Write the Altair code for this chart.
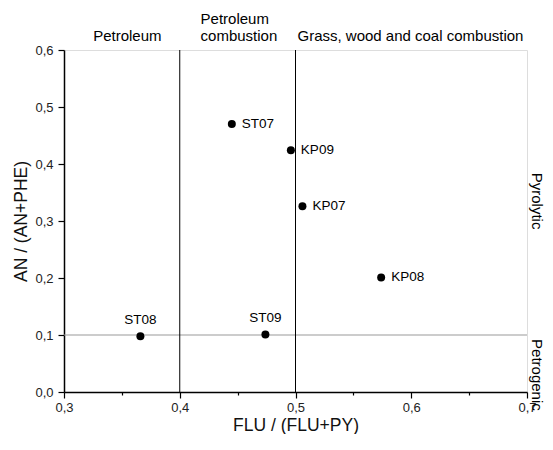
import altair as alt
import pandas as pd

# Data
samples = ["ST07", "KP09", "KP07", "KP08", "ST08", "ST09"]
flu_ratio = [0.445, 0.496, 0.506, 0.574, 0.366, 0.474]
an_ratio = [0.470, 0.424, 0.326, 0.201, 0.098, 0.101]
labels_above = ["ST08", "ST09"]

x_ticks = [0.3, 0.35, 0.4, 0.45, 0.5, 0.55, 0.6, 0.65, 0.7]
y_ticks = [0.0, 0.05, 0.1, 0.15, 0.2, 0.25, 0.3, 0.35, 0.4, 0.45, 0.5, 0.55, 0.6]

vlines = [0.4, 0.5]
hlines = [0.1]

single_labels = ["Petroleum", "Grass, wood and coal combustion"]
single_label_x = [0.3547, 0.5017]
single_label_align = ["center", "left"]
double_label = [["Petroleum", "combustion"]]
double_label_x = [0.418]

side_labels = ["Pyrolytic", "Petrogenic"]
side_label_y = [0.335, 0.030]

df = pd.DataFrame({"sample": samples, "x": flu_ratio, "y": an_ratio})
df["above"] = df["sample"].isin(labels_above)

FONT = "Liberation Sans"
major = "abs(round(datum.value*100) % 10) == 0"
lab = f"{major} ? replace(format(datum.value, '.1f'), '.', ',') : ''"

xscale = alt.Scale(domain=[0.3, 0.7], nice=False, zero=False)
yscale = alt.Scale(domain=[0.0, 0.6], nice=False, zero=False)

common = dict(grid=False, labelFlush=False, labelOverlap=False,
              tickSize={"condition": {"test": major, "value": 6}, "value": 3},
              tickColor="black", domainColor="black", domainWidth=1.5, tickWidth=1.2,
              labelFontSize=13, labelColor="#222", labelFont=FONT,
              titleFontSize=17.5, titleFontWeight="normal", titleColor="#111", titleFont=FONT)

xaxis = alt.Axis(values=x_ticks, labelExpr=lab, title="FLU / (FLU+PY)", titlePadding=2,
                 labelPadding=3, **common)
yaxis = alt.Axis(values=y_ticks, labelExpr=lab, title="AN / (AN+PHE)", titlePadding=4,
                 labelPadding=5, **common)

base = alt.Chart(df)

points = base.mark_circle(size=64, color="black", opacity=1).encode(
    x=alt.X("x:Q", scale=xscale, axis=xaxis),
    y=alt.Y("y:Q", scale=yscale, axis=yaxis),
)

text_right = base.transform_filter("!datum.above").mark_text(
    align="left", baseline="middle", dx=10, fontSize=13.5, font=FONT, color="black"
).encode(x="x:Q", y="y:Q", text="sample:N")

text_above = base.transform_filter("datum.above").mark_text(
    align="center", baseline="bottom", dy=-9, fontSize=13.5, font=FONT, color="black"
).encode(x="x:Q", y="y:Q", text="sample:N")

vdf = pd.DataFrame({"x": vlines})
vrules = alt.Chart(vdf).mark_rule(color="black", strokeWidth=1).encode(x="x:Q")

hdf = pd.DataFrame({"y": hlines})
hrules = alt.Chart(hdf).mark_rule(color="#999999", strokeWidth=1).encode(y="y:Q")

sl = pd.DataFrame({"label": single_labels, "x": single_label_x, "align": single_label_align})
sl["y"] = 0.6
top_text = []
for al in ["center", "left"]:
    sub = sl[sl["align"] == al]
    top_text.append(
        alt.Chart(sub).mark_text(align=al, baseline="alphabetic", dy=-9, fontSize=15,
                                 font=FONT, color="black")
        .encode(x="x:Q", y="y:Q", text="label:N")
    )
dl = pd.DataFrame({"label": double_label, "x": double_label_x})
dl["y"] = 0.6
top_text.append(
    alt.Chart(dl).mark_text(align="left", baseline="alphabetic", dy=-26, fontSize=15,
                            font=FONT, color="black", lineHeight=17)
    .encode(x="x:Q", y="y:Q", text="label")
)

# rotated text: dy (in the rotated frame) moves it to the right of the frame
sdf = pd.DataFrame({"label": side_labels, "y": side_label_y})
sdf["x"] = 0.7
side_text = alt.Chart(sdf).mark_text(angle=90, align="center", baseline="middle",
                                     dy=-10, fontSize=15, font=FONT, color="black").encode(
    x="x:Q", y="y:Q", text="label:N"
)

chart = alt.layer(hrules, vrules, points, text_right, text_above, *top_text, side_text).properties(
    width=463, height=342,
    autosize=alt.AutoSizeParams(type="none"),
    padding={"left": 56, "top": 42, "right": 18, "bottom": 42},
).configure_view(stroke="black", strokeWidth=1.2).configure(
    font=FONT
)

chart.save("out.html", embed_options={"renderer": "svg", "actions": False})
